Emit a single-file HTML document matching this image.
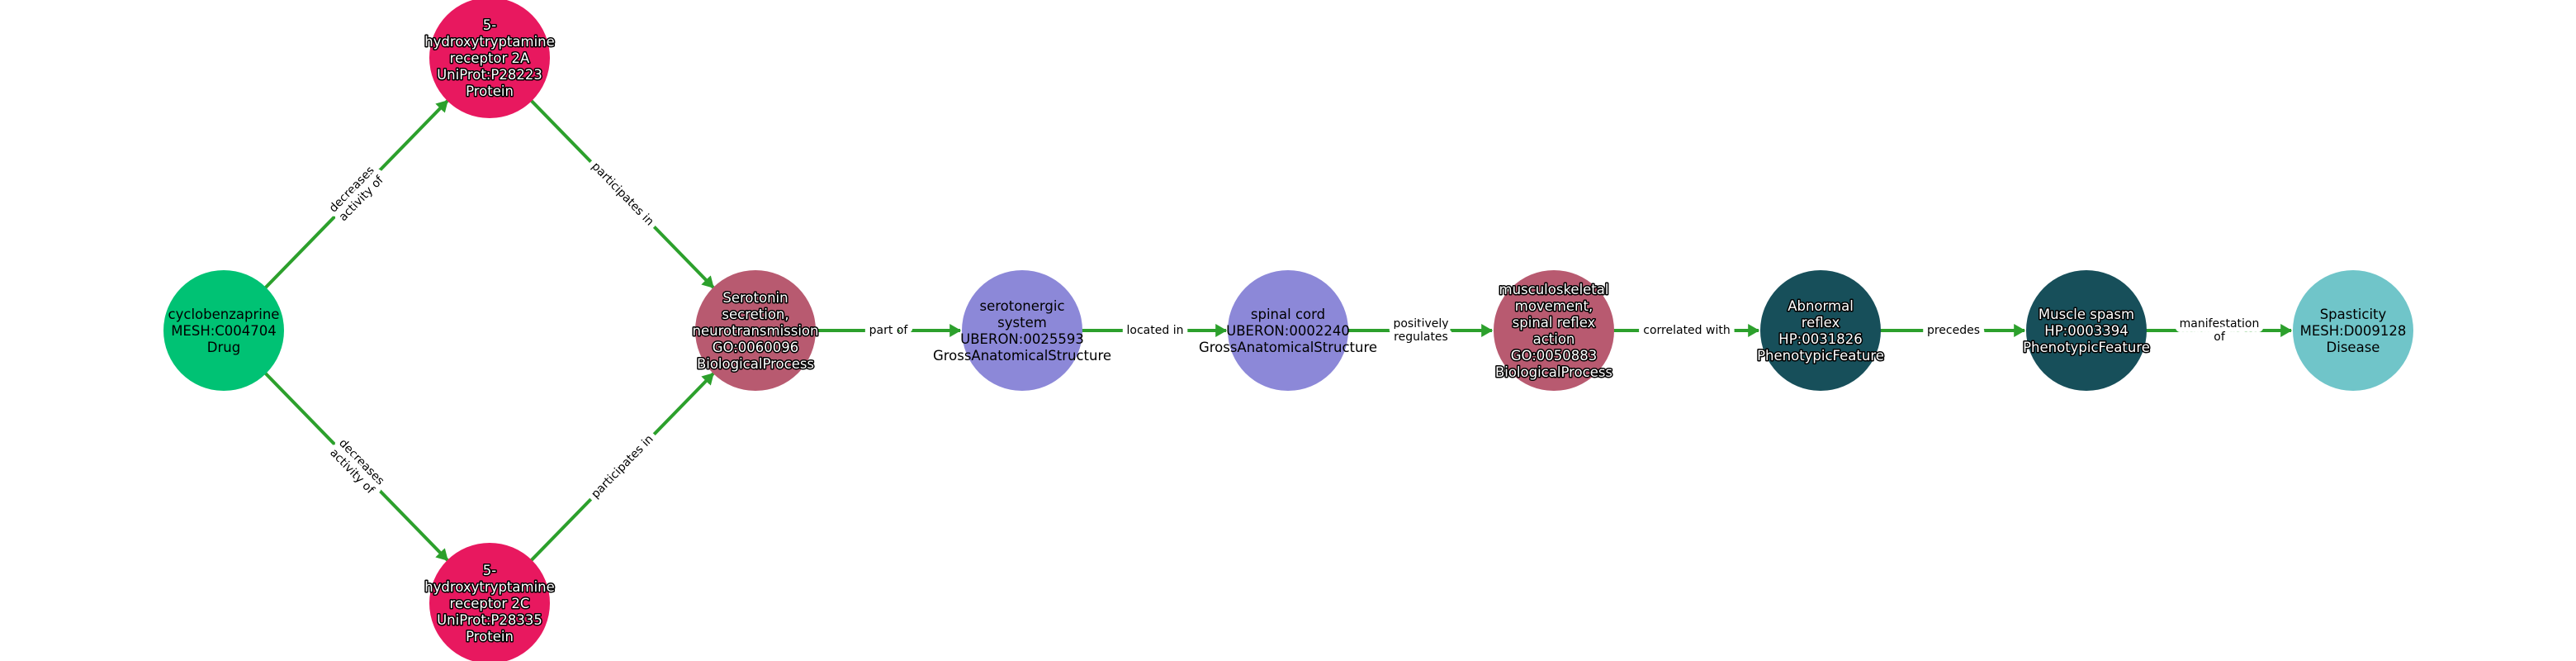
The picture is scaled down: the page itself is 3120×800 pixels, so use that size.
<!DOCTYPE html>
<html><head><meta charset="utf-8"><style>
html,body{margin:0;padding:0;background:#fff;}
svg{display:block;font-family:"DejaVu Sans","Liberation Sans",sans-serif;}
.nt{font-size:16.5px;text-anchor:middle;dominant-baseline:central;}
.w{fill:#fff;stroke:#000;stroke-width:3px;paint-order:stroke;stroke-linejoin:round;}
.b{fill:#000;}
.el{font-size:14px;text-anchor:middle;dominant-baseline:central;fill:#000;stroke:#fff;stroke-width:12px;paint-order:stroke;stroke-linejoin:round;}
</style></head><body>
<svg width="3120" height="800" viewBox="0 0 3120 800" xmlns="http://www.w3.org/2000/svg">
<defs><marker id="a" markerWidth="4" markerHeight="4" refX="3.2" refY="2" orient="auto" markerUnits="strokeWidth"><path d="M0,0 L3.5,2 L0,4 Z" fill="#2ca02c"/></marker></defs>
<g stroke="#2ca02c" stroke-width="4" fill="none" marker-end="url(#a)">
<line x1="271" y1="400" x2="542" y2="122"/>
<line x1="271" y1="400" x2="542" y2="678"/>
<line x1="593" y1="70" x2="864" y2="348"/>
<line x1="593" y1="730" x2="864" y2="452"/>
<line x1="915" y1="400" x2="1163" y2="400"/>
<line x1="1238" y1="400" x2="1485" y2="400"/>
<line x1="1560" y1="400" x2="1807" y2="400"/>
<line x1="1882" y1="400" x2="2130" y2="400"/>
<line x1="2205" y1="400" x2="2452" y2="400"/>
<line x1="2527" y1="400" x2="2775" y2="400"/>
</g>
<text class="el" transform="translate(432,235) rotate(-45.7)"><tspan x="0" y="-8">decreases</tspan><tspan x="0" y="8">activity of</tspan></text>
<text class="el" transform="translate(432,565) rotate(45.7)"><tspan x="0" y="-8">decreases</tspan><tspan x="0" y="8">activity of</tspan></text>
<text class="el" transform="translate(754,235) rotate(45.7)">participates in</text>
<text class="el" transform="translate(754,565) rotate(-45.7)">participates in</text>
<text class="el" x="1076" y="400">part of</text>
<text class="el" x="1399" y="400">located in</text>
<text class="el"><tspan x="1721" y="392">positively</tspan><tspan x="1721" y="408">regulates</tspan></text>
<text class="el" x="2043" y="400">correlated with</text>
<text class="el" x="2366" y="400">precedes</text>
<text class="el"><tspan x="2688" y="392">manifestation</tspan><tspan x="2688" y="408">of</tspan></text>
<g>
<circle cx="271" cy="400" r="73" fill="#00c274"/>
<circle cx="593" cy="70" r="73" fill="#e8185f"/>
<circle cx="593" cy="730" r="73" fill="#e8185f"/>
<circle cx="915" cy="400" r="73" fill="#b85a70"/>
<circle cx="1238" cy="400" r="73" fill="#8c88d8"/>
<circle cx="1560" cy="400" r="73" fill="#8c88d8"/>
<circle cx="1882" cy="400" r="73" fill="#b85a70"/>
<circle cx="2205" cy="400" r="73" fill="#174f5a"/>
<circle cx="2527" cy="400" r="73" fill="#174f5a"/>
<circle cx="2850" cy="400" r="73" fill="#70c5c9"/>
</g>
<text class="nt b"><tspan x="271" y="380">cyclobenzaprine</tspan><tspan x="271" y="400">MESH:C004704</tspan><tspan x="271" y="420">Drug</tspan></text>
<text class="nt w"><tspan x="593" y="30">5-</tspan><tspan x="593" y="50">hydroxytryptamine</tspan><tspan x="593" y="70">receptor 2A</tspan><tspan x="593" y="90">UniProt:P28223</tspan><tspan x="593" y="110">Protein</tspan></text>
<text class="nt w"><tspan x="593" y="690">5-</tspan><tspan x="593" y="710">hydroxytryptamine</tspan><tspan x="593" y="730">receptor 2C</tspan><tspan x="593" y="750">UniProt:P28335</tspan><tspan x="593" y="770">Protein</tspan></text>
<text class="nt w"><tspan x="915" y="360">Serotonin</tspan><tspan x="915" y="380">secretion,</tspan><tspan x="915" y="400">neurotransmission</tspan><tspan x="915" y="420">GO:0060096</tspan><tspan x="915" y="440">BiologicalProcess</tspan></text>
<text class="nt b"><tspan x="1238" y="370">serotonergic</tspan><tspan x="1238" y="390">system</tspan><tspan x="1238" y="410">UBERON:0025593</tspan><tspan x="1238" y="430">GrossAnatomicalStructure</tspan></text>
<text class="nt b"><tspan x="1560" y="380">spinal cord</tspan><tspan x="1560" y="400">UBERON:0002240</tspan><tspan x="1560" y="420">GrossAnatomicalStructure</tspan></text>
<text class="nt w"><tspan x="1882" y="350">musculoskeletal</tspan><tspan x="1882" y="370">movement,</tspan><tspan x="1882" y="390">spinal reflex</tspan><tspan x="1882" y="410">action</tspan><tspan x="1882" y="430">GO:0050883</tspan><tspan x="1882" y="450">BiologicalProcess</tspan></text>
<text class="nt w"><tspan x="2205" y="370">Abnormal</tspan><tspan x="2205" y="390">reflex</tspan><tspan x="2205" y="410">HP:0031826</tspan><tspan x="2205" y="430">PhenotypicFeature</tspan></text>
<text class="nt w"><tspan x="2527" y="380">Muscle spasm</tspan><tspan x="2527" y="400">HP:0003394</tspan><tspan x="2527" y="420">PhenotypicFeature</tspan></text>
<text class="nt b"><tspan x="2850" y="380">Spasticity</tspan><tspan x="2850" y="400">MESH:D009128</tspan><tspan x="2850" y="420">Disease</tspan></text>
</svg>
</body></html>
